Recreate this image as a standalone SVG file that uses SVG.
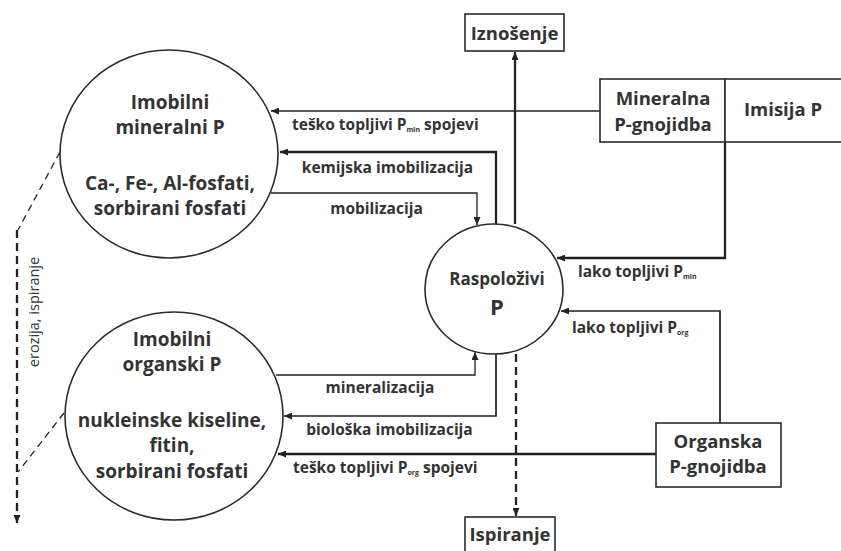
<svg xmlns="http://www.w3.org/2000/svg" width="841" height="551" viewBox="0 0 841 551">
<defs>
<marker id="ah" viewBox="0 0 8 7" refX="8" refY="3.5" markerWidth="8" markerHeight="7" markerUnits="userSpaceOnUse" orient="auto">
<path d="M0,0 L8,3.5 L0,7 z" fill="#222"/>
</marker>
<style>
.node{fill:#fff;stroke:#2b2b2b;stroke-width:1.6}
.t{font-family:"Open Sans","Liberation Sans",sans-serif;font-weight:bold;fill:#333;text-anchor:middle}
.big{font-size:19px}
.box{font-size:18.5px}
.lbl{font-family:"Open Sans","Liberation Sans",sans-serif;font-weight:bold;fill:#333;font-size:15.5px}
.sub{font-size:7px}
.c{fill:none;stroke:#222}
.thin{stroke-width:1.3}
.mid{stroke-width:1.7}
.thick{stroke-width:2.3}
.dash{stroke-dasharray:8 5}
.dashthin{stroke-dasharray:7 5}
</style>
</defs>
<rect width="841" height="551" fill="#fff"/>

<g id="connectors">
<path class="c thin" d="M600,111 H271" marker-end="url(#ah)"/>
<path class="c thick" d="M496,224 V152 H280" marker-end="url(#ah)"/>
<path class="c thin" d="M271,193 H477 V225" marker-end="url(#ah)"/>
<path class="c thick" d="M515,224 V52" marker-end="url(#ah)"/>
<path class="c thick" d="M725,142 V258 H557" marker-end="url(#ah)"/>
<path class="c mid" d="M720,423 V311 H561" marker-end="url(#ah)"/>
<path class="c thick" d="M656,454 H278" marker-end="url(#ah)"/>
<path class="c thin" d="M276,375 H475 V352" marker-end="url(#ah)"/>
<path class="c mid" d="M496,354 V416 H284" marker-end="url(#ah)"/>
<path class="c thick dash" d="M516,354 V516" marker-end="url(#ah)"/>
<path class="c thin dashthin" d="M60,152 L18,230"/>
<path class="c thin dashthin" d="M64,413 L18,472"/>
<path class="c thick dash" d="M17,230 V523" marker-end="url(#ah)"/>
</g>

<g id="imobilni-mineralni">
<ellipse class="node" cx="169" cy="154" rx="109" ry="104"/>
<text class="t big" x="170" y="109">Imobilni</text>
<text class="t big" x="170" y="134">mineralni P</text>
<text class="t big" x="170" y="190">Ca-, Fe-, Al-fosfati,</text>
<text class="t big" x="170" y="215">sorbirani fosfati</text>
</g>

<g id="imobilni-organski">
<ellipse class="node" cx="174" cy="416" rx="109" ry="104"/>
<text class="t big" x="172" y="346">Imobilni</text>
<text class="t big" x="172" y="371">organski P</text>
<text class="t big" x="172" y="427">nukleinske kiseline,</text>
<text class="t big" x="172" y="452">fitin,</text>
<text class="t big" x="172" y="478">sorbirani fosfati</text>
</g>

<g id="raspolozivi">
<ellipse class="node" cx="494" cy="289" rx="69" ry="65"/>
<text class="t" style="font-size:17px" x="497" y="285">Raspoloživi</text>
<text class="t" style="font-size:22px" x="497" y="315">P</text>
</g>

<g id="iznosenje">
<rect class="node" x="465" y="14" width="99" height="37"/>
<text class="t box" x="514.5" y="40">Iznošenje</text>
</g>

<g id="ispiranje">
<rect class="node" x="465" y="517" width="90" height="45"/>
<text class="t box" x="510" y="541">Ispiranje</text>
</g>

<g id="mineralna">
<rect class="node" x="600" y="79" width="125" height="63"/>
<text class="t box" x="663" y="105">Mineralna</text>
<text class="t box" x="663" y="131">P-gnojidba</text>
</g>

<g id="imisija">
<rect class="node" x="725" y="79" width="130" height="63"/>
<text class="t box" x="783" y="116">Imisija P</text>
</g>

<g id="organska">
<rect class="node" x="656" y="423" width="125" height="64"/>
<text class="t box" x="718" y="448">Organska</text>
<text class="t box" x="718" y="473">P-gnojidba</text>
</g>

<g id="labels">
<text class="lbl" x="292" y="130">teško topljivi P<tspan class="sub" dy="2">min</tspan><tspan dy="-2"> spojevi</tspan></text>
<text class="lbl" x="387.5" y="173" text-anchor="middle">kemijska imobilizacija</text>
<text class="lbl" x="376.5" y="214" text-anchor="middle">mobilizacija</text>
<text class="lbl" x="578" y="277">lako topljivi P<tspan class="sub" dy="2">min</tspan></text>
<text class="lbl" x="572" y="333">lako topljivi P<tspan class="sub" dy="2">org</tspan></text>
<text class="lbl" x="380" y="393" text-anchor="middle">mineralizacija</text>
<text class="lbl" x="389.5" y="435" text-anchor="middle">biološka imobilizacija</text>
<text class="lbl" x="293" y="473">teško topljivi P<tspan class="sub" dy="2">org</tspan><tspan dy="-2"> spojevi</tspan></text>
<text x="0" y="0" transform="translate(39,312) rotate(-90)" style="font-family:'Open Sans','Liberation Sans',sans-serif;font-size:14.5px;fill:#333;text-anchor:middle">erozija, ispiranje</text>
</g>
</svg>
